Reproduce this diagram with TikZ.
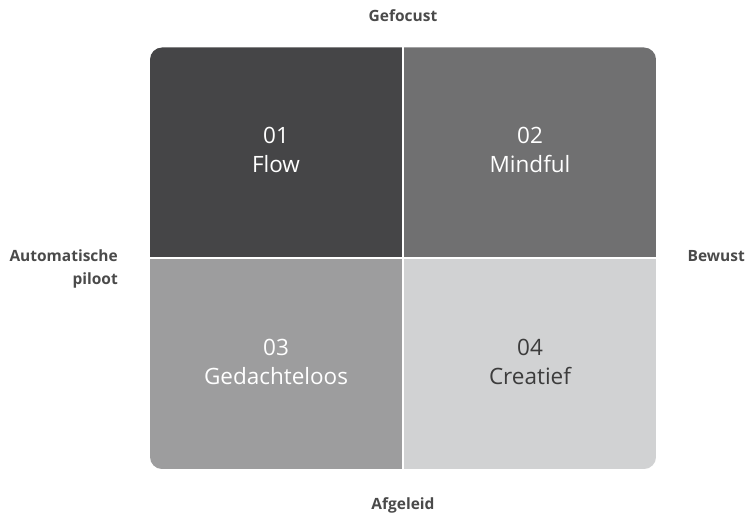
\documentclass[tikz,border=0pt]{standalone}
\usepackage{fontspec}
\setmainfont{Open Sans}
\usepackage{xcolor}
\usetikzlibrary{positioning}
\definecolor{quadone}{HTML}{454547}
\definecolor{quadtwo}{HTML}{707071}
\definecolor{quadthree}{HTML}{9D9D9E}
\definecolor{quadfour}{HTML}{D1D2D3}
\definecolor{labelgray}{HTML}{4A4A4A}
\definecolor{darktext}{HTML}{3C3C3C}

\begin{document}
\begin{tikzpicture}[x=1pt,y=-1pt]
	\tikzset{axis label/.style={font=\fontsize{15.5}{22.6}\selectfont\bfseries, text=labelgray, inner sep=0pt, anchor=base},
		quad text/.style={font=\fontsize{22.5}{28.3}\selectfont, align=center, text=white, inner sep=0pt, anchor=base}}
	\useasboundingbox (0,0) rectangle (746,516);

	\begin{scope}
		\clip[rounded corners=12] (150,47.5) rectangle (656,469);
		\fill[quadone] (150,47.5) rectangle (403,258);
		\fill[quadtwo] (403,47.5) rectangle (656,258);
		\fill[quadthree] (150,258) rectangle (403,469);
		\fill[quadfour] (403,258) rectangle (656,469);
	\end{scope}
	\draw[white, line width=2pt] (403,47.5) -- (403,469);
	\draw[white, line width=2pt] (150,258) -- (656,258);

	% base anchor sits on the last line
	\node[quad text] (flow) at (276,172) {01\\Flow};
	\node[quad text] (mindful) at (530,172) {02\\Mindful};
	\node[quad text] (gedachteloos) at (276,384) {03\\Gedachteloos};
	\node[quad text, text=darktext] (creatief) at (530,384) {04\\Creatief};

	\node[axis label] (gefocust) at (403,21.7) {Gefocust};
	\node[axis label] (afgeleid) at (403,509.3) {Afgeleid};
	\node[axis label, align=right, anchor=base east] (automatisch) at (118,284.3) {Automatische\\piloot};
	\node[axis label, anchor=base east] (bewust) at (745,261.7) {Bewust};
\end{tikzpicture}
\end{document}
